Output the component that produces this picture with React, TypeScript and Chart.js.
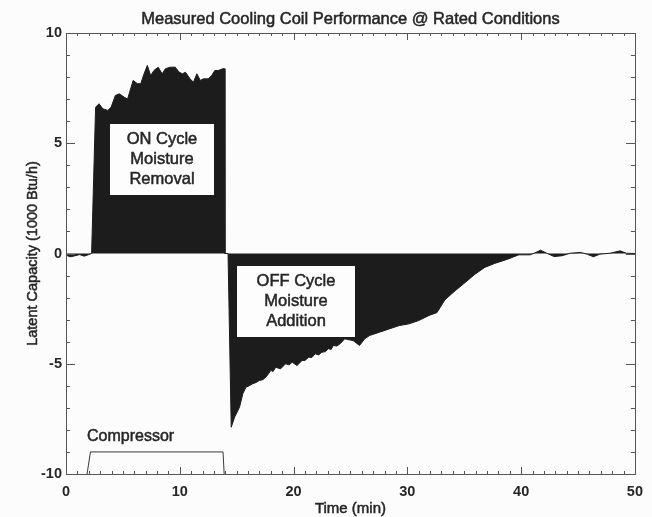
import React, { useEffect, useRef } from "react";
import { Chart, registerables } from "chart.js";

Chart.register(...registerables);

const timeMin = [
  0, 0.4, 0.8, 1.2, 1.6, 2.0, 2.25, 2.6, 2.9, 3.24, 3.67, 3.96, 4.34, 4.69, 5.12, 5.41, 5.9, 6.28, 6.57,
  6.86, 7.15, 7.44, 7.73, 8.1, 8.45, 8.74, 9.17, 9.6, 9.95, 10.24, 10.5, 10.9, 11.2, 11.5, 11.8, 12.07,
  12.5, 12.8, 13.08, 13.37, 13.8, 13.93, 13.97, 14.24, 14.52, 14.82, 15.25, 15.54, 15.82, 16.1, 16.4,
  16.7, 16.99, 17.3, 17.56, 17.8, 18.0, 18.2, 18.43, 18.86, 19.3, 19.6, 19.88, 20.3, 20.75, 21.0, 21.33,
  21.6, 21.9, 22.2, 22.48, 22.8, 23.06, 23.3, 23.5, 23.8, 24.07, 24.5, 25.23, 25.8, 26.25, 26.68, 27.55,
  28.4, 29.28, 30.15, 31.0, 31.9, 32.6, 33.3, 34.2, 35.07, 35.94, 36.8, 37.67, 38.8, 39.8, 40.8, 41.3,
  41.7, 42.3, 42.9, 43.6, 44.3, 45.2, 45.8, 46.35, 46.9, 47.8, 48.7, 49.25, 50,
];

const latentCapacity = [
  -0.08, -0.15, -0.1, -0.05, -0.12, -0.05, 0, 6.63, 6.79, 6.56, 6.49, 6.63, 7.17, 7.24, 7.09, 7.0, 7.85,
  7.7, 7.7, 8.15, 8.53, 8.07, 8.3, 8.45, 8.15, 8.38, 8.45, 8.45, 8.22, 8.15, 8.22, 7.92, 7.77, 8.15, 7.85,
  7.92, 7.92, 8.07, 8.3, 8.3, 8.38, 8.38, 0, 0, -7.88, -7.42, -6.97, -6.36, -6.06, -6.0, -5.91, -5.85,
  -5.76, -5.72, -5.61, -5.45, -5.3, -5.35, -5.16, -5.23, -5.0, -5.05, -4.93, -5.08, -4.85, -4.85, -4.7,
  -4.72, -4.55, -4.6, -4.48, -4.45, -4.32, -4.35, -4.17, -4.2, -4.1, -3.87, -3.95, -4.17, -3.87, -3.72,
  -3.57, -3.42, -3.27, -3.19, -3.04, -2.81, -2.68, -2.1, -1.69, -1.32, -0.94, -0.63, -0.45, -0.26, -0.06,
  -0.06, 0.05, 0.15, 0, -0.14, -0.1, 0.01, 0.05, -0.03, -0.15, -0.03, 0.01, 0.12, 0.01, 0,
];

const compressorTime = [1.85, 2.15, 13.8, 13.9];
const compressorLevel = [-10, -9, -9, -10];

const xTickStep = 10;
const yTickStep = 5;
const xRange = [0, 50];
const yRange = [-10, 10];

const chartTitle = "Measured Cooling Coil Performance @ Rated Conditions";
const xTitle = "Time (min)";
const yTitle = "Latent Capacity (1000 Btu/h)";
const compressorLabel = "Compressor";
const compressorLabelAt = [1.85, -8.3];

const onBoxLines = ["ON Cycle", "Moisture", "Removal"];
const onBoxArea = [3.82, 13.08, 5.91, 2.59];
const offBoxLines = ["OFF Cycle", "Moisture", "Addition"];
const offBoxArea = [14.96, 25.52, -0.51, -3.82];

const FONT = "'Liberation Sans', Arial, sans-serif";
const INK = "#1c1c1c";
const TEXT = "#262626";

function heavyText(ctx: any, t: string, x: number, y: number) {
  ctx.fillText(t, x, y);
  ctx.strokeText(t, x, y);
}

const decorPlugin = {
  id: "decor",
  afterDraw(chart: any) {
    const { ctx, chartArea, scales } = chart;
    const xs = scales.x;
    const ys = scales.y;
    const { left, right, top, bottom } = chartArea;
    ctx.save();

    const boxes = [
      { area: onBoxArea, lines: onBoxLines },
      { area: offBoxArea, lines: offBoxLines },
    ];
    for (const b of boxes) {
      const x0 = Math.round(xs.getPixelForValue(b.area[0]));
      const x1 = Math.round(xs.getPixelForValue(b.area[1]));
      const y0 = Math.round(ys.getPixelForValue(b.area[2]));
      const y1 = Math.round(ys.getPixelForValue(b.area[3]));
      ctx.fillStyle = "#fdfdfd";
      ctx.fillRect(x0, y0, x1 - x0, y1 - y0);
      ctx.strokeStyle = INK;
      ctx.lineWidth = 1;
      ctx.strokeRect(x0 + 0.5, y0 + 0.5, x1 - x0 - 1, y1 - y0 - 1);
      ctx.fillStyle = TEXT;
      ctx.strokeStyle = TEXT;
      ctx.lineWidth = 0.5;
      ctx.font = `16.5px ${FONT}`;
      ctx.textAlign = "center";
      ctx.textBaseline = "middle";
      const cx = (x0 + x1) / 2;
      const cy = (y0 + y1) / 2;
      const lh = 20;
      b.lines.forEach((t, i) => {
        heavyText(ctx, t, cx, cy + (i - (b.lines.length - 1) / 2) * lh);
      });
    }

    ctx.fillStyle = TEXT;
    ctx.strokeStyle = TEXT;
    ctx.lineWidth = 0.5;
    ctx.font = `16px ${FONT}`;
    ctx.textAlign = "left";
    ctx.textBaseline = "middle";
    heavyText(ctx, compressorLabel, xs.getPixelForValue(compressorLabelAt[0]), ys.getPixelForValue(compressorLabelAt[1]));

    ctx.strokeStyle = "#555";
    ctx.lineWidth = 1;
    ctx.strokeRect(Math.round(left) + 0.5, Math.round(top) + 0.5, Math.round(right - left), Math.round(bottom - top));

    ctx.beginPath();
    for (let v = xRange[0]; v <= xRange[1]; v += 1) {
      const px = Math.round(xs.getPixelForValue(v)) + 0.5;
      const len = v % xTickStep === 0 ? 7 : 3;
      ctx.moveTo(px, bottom);
      ctx.lineTo(px, bottom - len);
      ctx.moveTo(px, top);
      ctx.lineTo(px, top + len);
    }
    for (let v = yRange[0]; v <= yRange[1]; v += 1) {
      const py = Math.round(ys.getPixelForValue(v)) + 0.5;
      const len = v % yTickStep === 0 ? 9 : 4;
      ctx.moveTo(left, py);
      ctx.lineTo(left + len, py);
      ctx.moveTo(right, py);
      ctx.lineTo(right - len, py);
    }
    ctx.stroke();

    const midX = (left + right) / 2;
    ctx.fillStyle = TEXT;
    ctx.strokeStyle = TEXT;
    ctx.lineWidth = 0.5;
    ctx.textAlign = "center";
    ctx.textBaseline = "middle";
    ctx.font = `16.5px ${FONT}`;
    heavyText(ctx, chartTitle, midX, 19);
    ctx.font = `15px ${FONT}`;
    heavyText(ctx, xTitle, midX, 509);
    ctx.save();
    ctx.translate(33, (top + bottom) / 2);
    ctx.rotate(-Math.PI / 2);
    ctx.font = `14.5px ${FONT}`;
    heavyText(ctx, yTitle, 0, 0);
    ctx.restore();

    ctx.restore();
  },
};

const bgPlugin = {
  id: "bg",
  beforeDraw(chart: any) {
    const { ctx, width, height } = chart;
    ctx.save();
    ctx.fillStyle = "#fcfcfc";
    ctx.fillRect(0, 0, width, height);
    ctx.restore();
  },
};

export default function App() {
  const ref = useRef<HTMLCanvasElement | null>(null);
  useEffect(() => {
    if (!ref.current) return;
    const coilPoints = timeMin.map((t, i) => ({ x: t, y: latentCapacity[i] }));
    const compPoints = compressorTime.map((t, i) => ({ x: t, y: compressorLevel[i] }));
    const chart = new Chart(ref.current, {
      type: "line",
      data: {
        datasets: [
          {
            label: "Latent capacity",
            data: coilPoints,
            borderColor: INK,
            backgroundColor: INK,
            borderWidth: 1,
            pointRadius: 0,
            tension: 0,
            fill: "origin",
          },
          {
            label: "Compressor",
            data: compPoints,
            borderColor: "#3a3a3a",
            borderWidth: 1,
            pointRadius: 0,
            tension: 0,
            fill: false,
          },
        ],
      },
      options: {
        animation: false,
        responsive: false,
        maintainAspectRatio: false,
        layout: { padding: { left: 0, right: 10, top: 33, bottom: 0 } },
        plugins: { legend: { display: false }, tooltip: { enabled: false }, title: { display: false } },
        scales: {
          x: {
            type: "linear",
            min: xRange[0],
            max: xRange[1],
            grid: { display: false, drawTicks: false },
            border: { display: false },
            ticks: {
              stepSize: xTickStep,
              padding: 9,
              color: TEXT,
              font: { family: FONT, size: 14.5, weight: "bold" },
              maxRotation: 0,
            },
            afterFit(scale: any) {
              scale.height = 43;
            },
          },
          y: {
            type: "linear",
            min: yRange[0],
            max: yRange[1],
            grid: { display: false, drawTicks: false },
            border: { display: false },
            ticks: {
              stepSize: yTickStep,
              padding: 4,
              color: TEXT,
              font: { family: FONT, size: 14.5, weight: "bold" },
            },
            afterFit(scale: any) {
              scale.width = 66;
            },
          },
        },
      },
      plugins: [bgPlugin, decorPlugin],
    });
    return () => chart.destroy();
  }, []);
  return (
    <div style={{ position: "absolute", left: 0, top: 0, width: 652, height: 517 }}>
      <canvas ref={ref} width={652} height={517} style={{ display: "block" }} />
    </div>
  );
}
